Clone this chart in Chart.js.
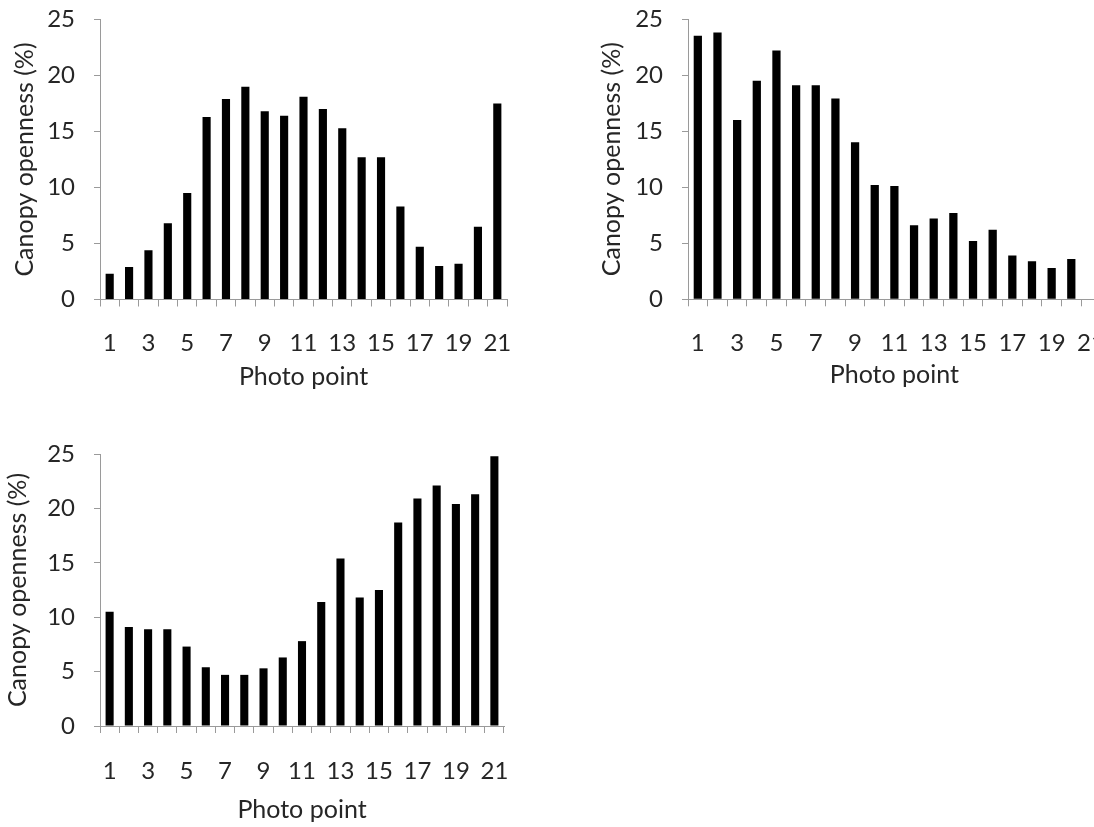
<!DOCTYPE html>
<html>
<head>
<meta charset="utf-8">
<script src="https://cdn.jsdelivr.net/npm/chart.js@4"></script>
<style>
  html, body { margin: 0; padding: 0; background: #fff; width: 1094px; height: 827px; overflow: hidden; position: relative; }
  canvas { position: absolute; }
</style>
</head>
<body>
<canvas id="chart1" width="540" height="400" style="left:0px;top:0px"></canvas>
<canvas id="chart2" width="540" height="400" style="left:588px;top:0px"></canvas>
<canvas id="chart3" width="540" height="397" style="left:0px;top:430px"></canvas>
<script>
const photoPoints = ['1','2','3','4','5','6','7','8','9','10','11','12','13','14','15','16','17','18','19','20','21'];
const openness1 = [2.3, 2.9, 4.4, 6.8, 9.5, 16.3, 17.9, 19.0, 16.8, 16.4, 18.1, 17.0, 15.3, 12.7, 12.7, 8.3, 4.7, 3.0, 3.2, 6.5, 17.5];
const openness2 = [23.5, 23.8, 16.0, 19.5, 22.2, 19.1, 19.1, 17.9, 14.0, 10.2, 10.1, 6.6, 7.2, 7.7, 5.2, 6.2, 3.9, 3.4, 2.8, 3.6, null];
const openness3 = [10.5, 9.1, 8.9, 8.9, 7.3, 5.4, 4.7, 4.7, 5.3, 6.3, 7.8, 11.4, 15.4, 11.8, 12.5, 18.7, 20.9, 22.1, 20.4, 21.3, 24.8];
const yMin = 0, yMax = 25, yStep = 5;

Chart.defaults.font.family = 'Lato, "Open Sans", sans-serif';
Chart.defaults.color = '#262626';

const axisGrey = '#9a9a9a';

function makeChart(id, values, g) {
  const ctx = document.getElementById(id).getContext('2d');
  return new Chart(ctx, {
    type: 'bar',
    data: {
      labels: photoPoints,
      datasets: [{
        data: values,
        backgroundColor: '#000',
        borderWidth: 0,
        barPercentage: 0.42,
        categoryPercentage: 1
      }]
    },
    options: {
      responsive: false,
      animation: false,
      layout: { padding: { top: g.top, right: g.right, left: 0, bottom: 0 } },
      plugins: { legend: { display: false }, tooltip: { enabled: false } },
      scales: {
        x: {
          offset: true,
          grid: { display: true, offset: true, drawOnChartArea: false, drawTicks: true, tickLength: 7, color: axisGrey },
          border: { display: true, color: axisGrey, width: 1 },
          ticks: {
            autoSkip: false, maxRotation: 0, padding: g.xTickPad,
            font: { size: 24 },
            callback: (v, i) => (i % 2 === 0 ? photoPoints[i] : '')
          },
          title: { display: true, text: 'Photo point', font: { size: 25 }, padding: { top: 0, bottom: g.xTitlePad } },
          afterFit: s => { s.height = g.xHeight; }
        },
        y: {
          min: yMin, max: yMax,
          grid: { display: true, drawOnChartArea: false, drawTicks: true, tickLength: 6, color: axisGrey },
          border: { display: true, color: axisGrey, width: 1 },
          ticks: { stepSize: yStep, padding: 19, font: { size: 24 } },
          title: { display: true, text: 'Canopy openness (%)', font: { size: 25 }, padding: { top: g.yTitlePad, bottom: 0 } },
          afterFit: s => { s.width = 100; s.paddingTop = 0; s.paddingBottom = 0; }
        }
      }
    }
  });
}

makeChart('chart1', openness1, { top: 19.5, right: 33, xHeight: 100.5, xTickPad: 22, xTitlePad: 8, yTitlePad: 10 });
makeChart('chart2', openness2, { top: 19, right: 22, xHeight: 100.7, xTickPad: 22.6, xTitlePad: 10, yTitlePad: 8.7 });
makeChart('chart3', openness3, { top: 24, right: 36, xHeight: 101, xTickPad: 24.3, xTitlePad: 2, yTitlePad: 3 });
</script>
</body>
</html>
